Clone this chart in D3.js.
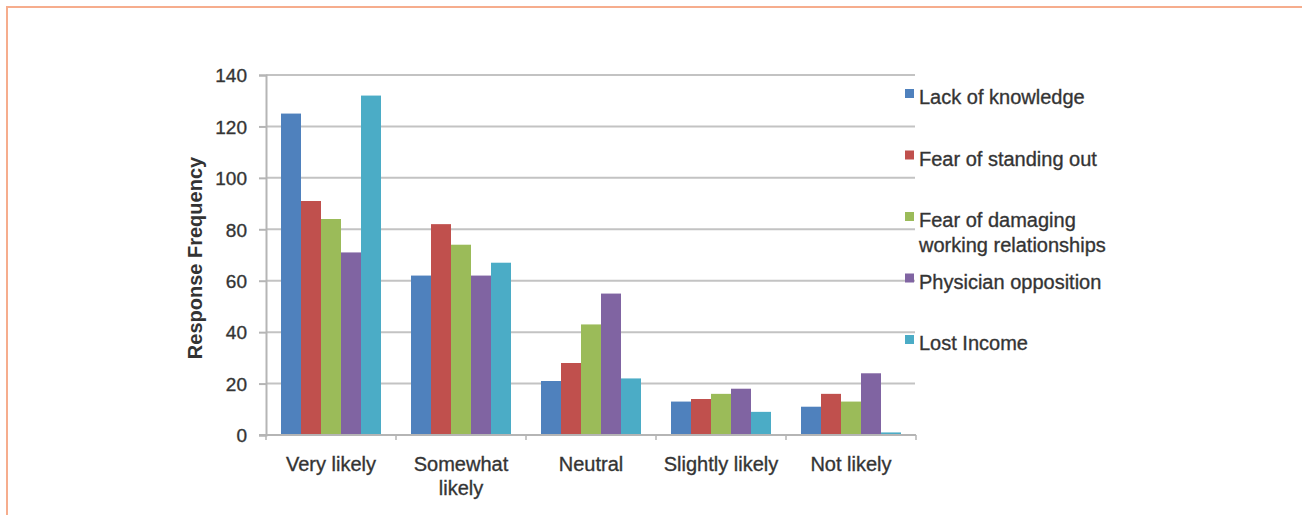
<!DOCTYPE html>
<html>
<head>
<meta charset="utf-8">
<script src="https://cdn.jsdelivr.net/npm/d3@7"></script>
<style>
  html, body { margin: 0; padding: 0; background: #fff; }
  svg { display: block; }
  text { font-family: Arial, "Liberation Sans", Helvetica, sans-serif; fill: #333; }
  .heavy { stroke: #3a3a3a; stroke-width: 0.35px; }
</style>
</head>
<body>
<svg id="chart" width="1302" height="515"></svg>
<script>
// Categories on the x axis (label lines as drawn under each group)
const categories = ["Very likely", "Somewhat likely", "Neutral", "Slightly likely", "Not likely"];
const categoryLines = [["Very likely"], ["Somewhat", "likely"], ["Neutral"], ["Slightly likely"], ["Not likely"]];

// Series (barriers) and their legend lines
const seriesNames = ["Lack of knowledge", "Fear of standing out", "Fear of damaging working relationships", "Physician opposition", "Lost Income"];
const seriesLines = [["Lack of knowledge"], ["Fear of standing out"], ["Fear of damaging", "working relationships"], ["Physician opposition"], ["Lost Income"]];
const seriesColors = ["#4F81BD", "#C0504D", "#9BBB59", "#8064A2", "#4BACC6"];

// Response frequency per series, in category order
const lackOfKnowledge   = [125, 62, 21, 13, 11];
const fearStandingOut   = [91, 82, 28, 14, 16];
const fearDamaging      = [84, 74, 43, 16, 13];
const physicianOpp      = [71, 62, 55, 18, 24];
const lostIncome        = [132, 67, 22, 9, 1];
const seriesValues = [lackOfKnowledge, fearStandingOut, fearDamaging, physicianOpp, lostIncome];

// Y axis ticks
const yTicks = [0, 20, 40, 60, 80, 100, 120, 140];
const yLabel = "Response Frequency";

const svg = d3.select("#chart");

// Frame lines along the top and left edges
svg.append("line").attr("x1", 6).attr("x2", 1302).attr("y1", 7).attr("y2", 7)
  .attr("stroke", "#f6ad8d").attr("stroke-width", 2);
svg.append("line").attr("x1", 7).attr("x2", 7).attr("y1", 6).attr("y2", 515)
  .attr("stroke", "#f6ad8d").attr("stroke-width", 2);

const plot = { left: 266, right: 916, top: 75, bottom: 435 };

const x = d3.scaleBand().domain(categories).range([plot.left, plot.right]).padding(0);
const xs = d3.scaleBand().domain(seriesNames).range([0, x.bandwidth()]).paddingInner(0).paddingOuter(0.75);
const y = d3.scaleLinear().domain([0, 140]).range([plot.bottom, plot.top]);

// Horizontal gridlines
svg.append("g").selectAll("line").data(yTicks.filter(t => t > 0)).join("line")
  .attr("x1", plot.left).attr("x2", plot.right - 1)
  .attr("y1", d => y(d)).attr("y2", d => y(d))
  .attr("stroke", "#c3c3c3").attr("stroke-width", 2);

// Y axis
const yAxis = d3.axisLeft(y).tickValues(yTicks).tickSize(7).tickPadding(12);
const gy = svg.append("g").attr("transform", `translate(${plot.left},0)`).call(yAxis);
gy.select(".domain").attr("stroke", "#b5b5b5").attr("stroke-width", 2);
gy.selectAll(".tick line").attr("stroke", "#b5b5b5").attr("stroke-width", 2);
gy.selectAll(".tick text").attr("class", "heavy").style("font-size", "19px").attr("fill", "#333").attr("dy", "0.36em");

// Bars
const groups = svg.append("g").selectAll("g").data(categories).join("g")
  .attr("transform", d => `translate(${x(d)},0)`);
groups.selectAll("rect")
  .data((c, ci) => seriesNames.map((s, si) => ({ s, si, v: seriesValues[si][ci] })))
  .join("rect")
  .attr("x", d => xs(d.s))
  .attr("width", xs.bandwidth())
  .attr("y", d => y(d.v))
  .attr("height", d => y(0) - y(d.v))
  .attr("fill", d => seriesColors[d.si]);

// X axis baseline and boundary ticks
svg.append("line").attr("x1", plot.left - 7).attr("x2", plot.right)
  .attr("y1", y(0)).attr("y2", y(0)).attr("stroke", "#b5b5b5").attr("stroke-width", 2);
const bounds = categories.map(c => x(c)).concat([plot.right]);
svg.append("g").selectAll("line").data(bounds).join("line")
  .attr("x1", d => d).attr("x2", d => d)
  .attr("y1", y(0)).attr("y2", y(0) + 5)
  .attr("stroke", "#b5b5b5").attr("stroke-width", 1.5);

// Category labels
const xl = svg.append("g").selectAll("text").data(categories).join("text")
  .attr("class", "heavy")
  .attr("x", d => x(d) + x.bandwidth() / 2)
  .attr("y", 471)
  .attr("text-anchor", "middle")
  .style("font-size", "20px");
xl.selectAll("tspan").data((d, i) => categoryLines[i]).join("tspan")
  .attr("x", function() { return this.parentNode.getAttribute("x"); })
  .attr("dy", (d, i) => i === 0 ? 0 : 24)
  .text(d => d);

// Y axis title
svg.append("text")
  .attr("transform", `translate(202,${(plot.top + plot.bottom) / 2 + 3}) rotate(-90)`)
  .attr("text-anchor", "middle")
  .style("font-size", "20px").style("font-weight", "bold")
  .attr("fill", "#222")
  .text(yLabel);

// Legend
const legendTop = 104, legendStep = 61.5;
const lg = svg.append("g").selectAll("g").data(seriesNames).join("g")
  .attr("transform", (d, i) => `translate(905,${legendTop + i * legendStep})`);
lg.append("rect").attr("x", 0).attr("y", -15).attr("width", 9).attr("height", 9)
  .attr("fill", (d, i) => seriesColors[i]);
const lt = lg.append("text").attr("class", "heavy").attr("x", 14).attr("y", 0).style("font-size", "20px");
lt.selectAll("tspan").data((d, i) => seriesLines[seriesNames.indexOf(d)]).join("tspan")
  .attr("x", 14).attr("dy", (d, i) => i === 0 ? 0 : 25)
  .text(d => d);
</script>
</body>
</html>
